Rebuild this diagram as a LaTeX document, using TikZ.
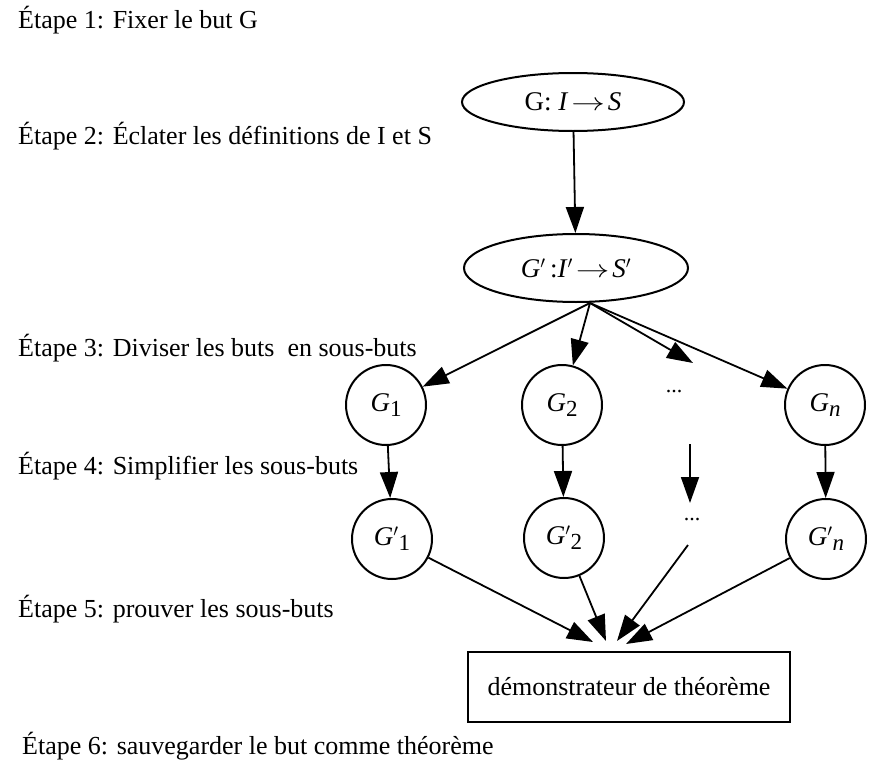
\documentclass[tikz,border=0pt]{standalone}
\usepackage{fontspec}
\setmainfont{Liberation Serif}
\usetikzlibrary{arrows.meta,shapes.geometric}
\tikzset{
  lbl/.style={anchor=base west, inner sep=0pt, font=\fontsize{26}{30}\selectfont},
  goal/.style={draw, line width=2pt, ellipse, inner sep=0pt, font=\fontsize{27}{30}\selectfont},
  sub/.style={draw, line width=2pt, circle, minimum size=80pt, inner sep=0pt, font=\fontsize{27}{30}\selectfont},
  dots/.style={inner sep=0pt, font=\fontsize{22}{24}\selectfont},
  arr/.style={line width=1.8pt, -{Triangle[length=26pt,width=18pt]}},
  box/.style={draw, line width=2.2pt, rectangle, minimum width=322pt, minimum height=70pt, inner sep=0pt, font=\fontsize{26}{30}\selectfont}
}
\newcommand{\Gs}[1]{\textit{G}\raisebox{-0.4ex}{\fontsize{23}{24}\selectfont #1}}
\newcommand{\Gps}[1]{\textit{G}$'$\raisebox{-0.4ex}{\fontsize{23}{24}\selectfont #1}}
\newcommand{\longarr}{\hspace{3pt}\scalebox{1.35}[1]{$\rightarrow$}\hspace{3pt}}
\begin{document}
\begin{tikzpicture}[x=1pt,y=-1pt]
\useasboundingbox (0,0) rectangle (871,763);
% step labels
\node[lbl] (e1) at (18,28) {Étape 1: Fixer le but G};
\node[lbl] (e2) at (18,144) {Étape 2: Éclater les définitions de I et S};
\node[lbl] (e3) at (18,356) {Étape 3: Diviser les buts\ \ en sous-buts};
\node[lbl] (e4) at (18,474) {Étape 4: Simplifier les sous-buts};
\node[lbl] (e5) at (18,617) {Étape 5: prouver les sous-buts};
\node[lbl] (e6) at (22,754) {Étape 6: sauvegarder le but comme théorème};
% goals
\node[goal, minimum width=222pt, minimum height=58pt] (G) at (573,102) {G: \textit{I}\longarr\textit{S}};
\node[goal, minimum width=224pt, minimum height=68pt] (Gp) at (576,268) {\textit{G}$'$\,:\textit{I}$'$\longarr\textit{S}$'$};
% sub goals
\node[sub] (G1) at (386,405) {\Gs{1}};
\node[sub] (G2) at (562,405) {\Gs{2}};
\node[dots] (D1) at (674,392) {...};
\node[sub] (Gn) at (825,405) {\Gs{\textit{n}}};
\node[sub] (Gp1) at (392,539) {\Gps{1}};
\node[sub] (Gp2) at (564,538) {\Gps{2}};
\node[dots] (D2) at (692,520) {...};
\node[sub] (Gpn) at (826,539) {\Gps{\textit{n}}};
% prover
\node[box] (P) at (629,687) {démonstrateur de théorème};
% helper points
\coordinate (s0) at (590,303);
\coordinate (d1) at (693,363);
\coordinate (d2a) at (690,444);
\coordinate (d2b) at (690,503);
\coordinate (d3) at (688,545);
\coordinate (t1) at (593,642);
\coordinate (t2) at (606,641);
\coordinate (t3) at (617,641);
\coordinate (t4) at (626,644);
% arrows
\draw[arr] (G) -- (Gp);
\draw[arr] (s0) -- (G1);
\draw[arr] (s0) -- (G2);
\draw[arr] (s0) -- (d1);
\draw[arr] (s0) -- (Gn);
\draw[arr] (G1) -- (Gp1);
\draw[arr] (G2) -- (Gp2);
\draw[arr] (d2a) -- (d2b);
\draw[arr] (Gn) -- (Gpn);
\draw[arr] (Gp1) -- (t1);
\draw[arr] (Gp2) -- (t2);
\draw[arr] (d3) -- (t3);
\draw[arr] (Gpn) -- (t4);
\end{tikzpicture}
\end{document}
